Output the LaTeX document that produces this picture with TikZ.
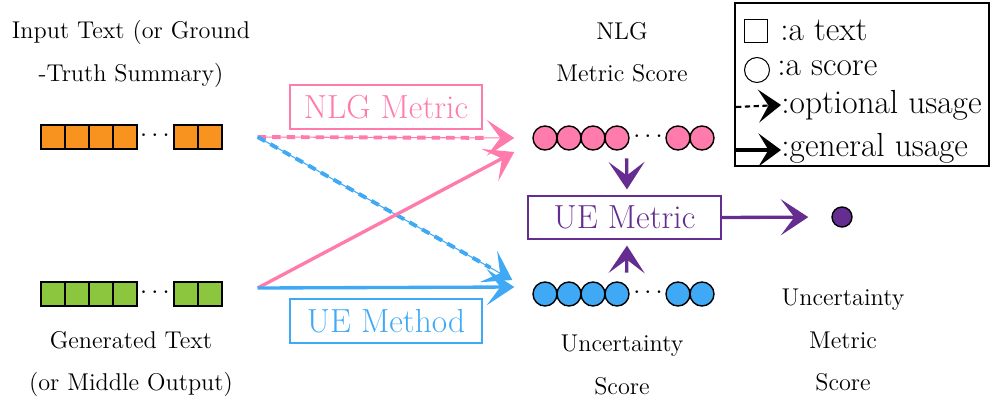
\documentclass[tikz,border=0pt]{standalone}
\usetikzlibrary{arrows.meta,positioning,calc}

\definecolor{nlgpink}{HTML}{FF7BAC}
\definecolor{uebl}{HTML}{3FA9F5}
\definecolor{uepurple}{HTML}{662D91}
\definecolor{txtorange}{HTML}{F7931E}
\definecolor{txtgreen}{HTML}{8CC63F}

\tikzset{
    tok/.style={draw, line width=0.8pt, minimum size=0.48cm, inner sep=0pt},
    sc/.style={circle, draw, line width=0.8pt, minimum size=0.48cm, inner sep=0pt},
    lbl/.style={align=center, font=\fontsize{13.8}{24}\selectfont},
    legtxt/.style={anchor=west, inner sep=0pt, font=\fontsize{19}{20}\selectfont},
    metbox/.style={draw, line width=1.2pt, minimum width=3.85cm, minimum height=0.87cm, inner sep=0pt, font=\fontsize{19}{22}\selectfont},
    bigtip/.style={-{Stealth[length=0.55cm, width=0.72cm, inset=0.27cm]}},
    legtip/.style={-{Stealth[length=0.45cm, width=0.66cm, inset=0.2cm]}},
    genarrow/.style={bigtip, line width=1.9pt},
    optarrow/.style={bigtip, line width=0.6pt, postaction={draw, -, line width=2.2pt, dash pattern=on 0.17cm off 0.12cm, shorten >=0.5cm}},
}

\begin{document}
\begin{tikzpicture}[x=0.02cm, y=-0.02cm]
    \useasboundingbox (0,0) rectangle (990,403);

    % text tokens and scores, 1-based from the left
    \foreach \i/\x in {1/53,2/77,3/101,4/125,5/186,6/210} {
        \node[tok, fill=txtorange] (o\i) at (\x,137) {};
        \node[tok, fill=txtgreen] (g\i) at (\x,294) {};
        \node[sc, fill=nlgpink] (p\i) at (\x+492,138) {};
        \node[sc, fill=uebl] (u\i) at (\x+492,294) {};
    }
    \node[lbl] (od) at (155,136) {$\cdots$};
    \node[lbl] (gd) at (155,293) {$\cdots$};
    \node[lbl] (pd) at (648,137) {$\cdots$};
    \node[lbl] (ud) at (648,293) {$\cdots$};

    % labels
    \node[lbl] (intxt) at (131,54) {Input Text (or Ground\\-Truth Summary)};
    \node[lbl] (gentxt) at (131,364) {Generated Text\\(or Middle Output)};
    \node[lbl] (nlgsc) at (622,52) {NLG\\Metric Score};
    \node[lbl] (uesc) at (622,365) {Uncertainty\\Score};
    \node[lbl] (uemsc) at (843,340) {Uncertainty\\Metric\\Score};

    % metric / method boxes
    \node[metbox, nlgpink] (nlgm) at (386,107) {NLG Metric};
    \node[metbox, uebl] (uem) at (386,321) {UE Method};
    \node[metbox, uepurple] (uemet) at (624.5,217.5) {UE Metric};
    \node[circle, draw, fill=uepurple, line width=0.8pt, minimum size=0.4cm, inner sep=0pt] (final) at (842,217) {};

    % arrows from the texts to the scores
    \coordinate (srcA) at ($(o6.east)+(35,0)$);
    \coordinate (srcB) at ($(g6.east)+(35,-6)$);
    \coordinate (dstP) at ($(p1.west)+(-18,0)$);
    \coordinate (dstP2) at ($(p1.west)+(-18,14)$);
    \coordinate (dstU) at ($(u1.west)+(-18,-7)$);
    \coordinate (dstU2) at ($(u1.west)+(-20,-14)$);
    \draw[optarrow, nlgpink] (srcA) -- (dstP);      % optional, input text to NLG metric
    \draw[optarrow, uebl] (srcA) -- (dstU2);        % optional, input text to UE method
    \draw[genarrow, nlgpink] (srcB) -- (dstP2);     % generated text to NLG metric
    \draw[genarrow, uebl] (srcB) -- (dstU);         % generated text to UE method

    % scores into the UE metric
    \draw[genarrow, uepurple, shorten <=6pt, shorten >=3pt] ($(p4.south east)!0.5!(pd.south west)$) -- (uemet.north -| pd.west);
    \draw[genarrow, uepurple, shorten <=6pt, shorten >=3pt] ($(u4.north east)!0.5!(ud.north west)$) -- (uemet.south -| ud.west);
    \draw[genarrow, uepurple, shorten >=0.46cm] (uemet.east) -- (final.west);

    % legend
    \draw[line width=1.2pt] (735,3) rectangle (989,166);
    \node[draw, line width=0.6pt, minimum size=0.46cm, inner sep=0pt] (lgtok) at (756,31) {};
    \node[legtxt] (lgtoktxt) at (780,30) {:a text};
    \node[circle, draw, line width=0.6pt, minimum size=0.5cm, inner sep=0pt] (lgsc) at (757,70) {};
    \node[legtxt] (lgsctxt) at (777,68) {:a score};
    \coordinate (lgA) at (736,107);
    \node[legtxt] (lgopt) at (781,105) {:optional usage};
    \draw[line width=1.2pt, dash pattern=on 3pt off 2pt, legtip] (lgA) -- (lgopt.west);
    \coordinate (lgB) at (736,150);
    \node[legtxt] (lggen) at (781,148) {:general usage};
    \draw[line width=1.9pt, legtip] (lgB) -- (lggen.west |- lgB);
\end{tikzpicture}
\end{document}
